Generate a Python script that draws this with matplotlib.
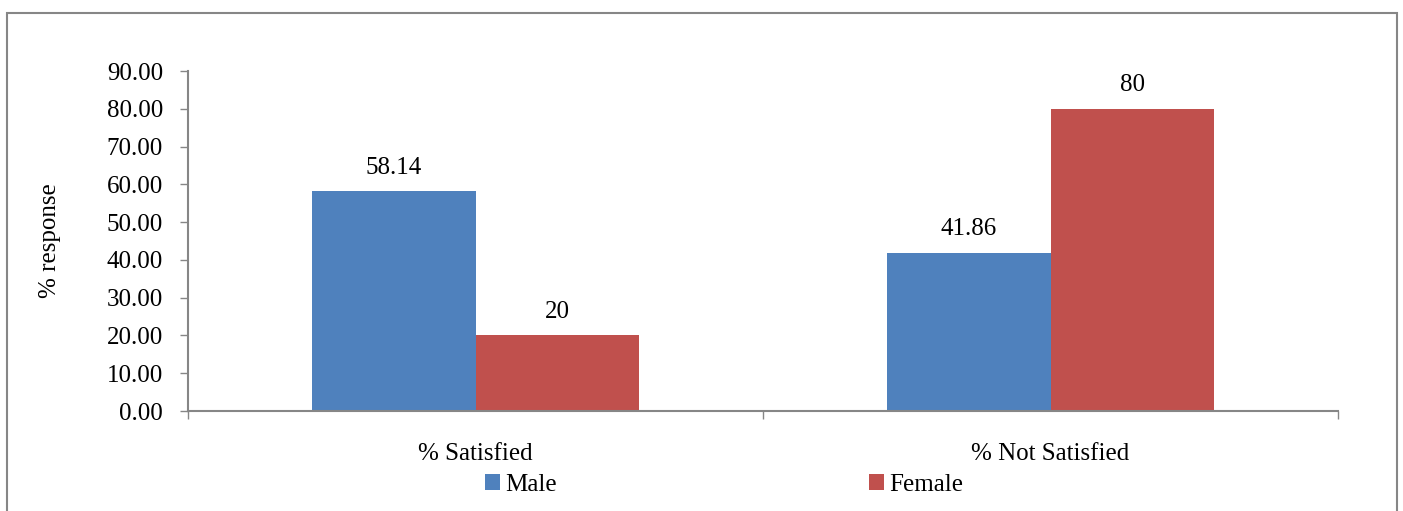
import matplotlib
matplotlib.use("Agg")
import matplotlib.pyplot as plt
from matplotlib.patches import Rectangle
import numpy as np

# ----------------------------
# DATA
# ----------------------------
categories = ["% Satisfied", "% Not Satisfied"]
male = [58.14, 41.86]
female = [20, 80]
male_labels = ["58.14", "41.86"]
female_labels = ["20", "80"]
y_ticks = [0, 10, 20, 30, 40, 50, 60, 70, 80, 90]

plt.rcParams["font.family"] = ["Liberation Serif", "DejaVu Serif"]
FS = 18
GRAY = "#868686"
BLUE = "#4F81BD"
RED = "#C0504D"

fig = plt.figure(figsize=(14.03, 5.11), dpi=100)
ax = fig.add_axes([188 / 1403, 1 - 411 / 511, 1150 / 1403, 340 / 511])

x = np.arange(len(categories))
w = 0.284
b1 = ax.bar(x - w / 2, male, w, color=BLUE, label="Male")
b2 = ax.bar(x + w / 2, female, w, color=RED, label="Female")

for bars, labs in [(b1, male_labels), (b2, female_labels)]:
    for bar, lab in zip(bars, labs):
        ax.annotate(lab, (bar.get_x() + bar.get_width() / 2, bar.get_height()),
                    xytext=(0, 9), textcoords="offset points",
                    ha="center", va="bottom", fontsize=FS)

ax.set_xlim(-0.5, 1.5)
ax.set_ylim(0, 90)
ax.set_yticks(y_ticks)
ax.set_yticklabels([f"{v:.2f}" for v in y_ticks], fontsize=FS)
ax.set_xticks(x)
ax.set_xticklabels(categories, fontsize=FS)
ax.set_xticks([-0.5, 0.5, 1.5], minor=True)
ax.tick_params(axis="x", which="major", length=0, pad=23)
ax.tick_params(axis="x", which="minor", length=6, width=1, color=GRAY, direction="out")
ax.tick_params(axis="y", length=6, width=1, color=GRAY, pad=12)

for s in ["top", "right"]:
    ax.spines[s].set_visible(False)
for s in ["left", "bottom"]:
    ax.spines[s].set_color(GRAY)
    ax.spines[s].set_linewidth(1.5)

ax.set_ylabel("% response", fontsize=FS, labelpad=33)

fig.legend(loc="center", bbox_to_anchor=(724 / 1403, 1 - 485 / 511), ncol=2,
           frameon=False, fontsize=FS, handlelength=0.6, handleheight=0.6,
           handletextpad=0.2, columnspacing=12.5, borderpad=0)

# outer chart border
fig.add_artist(Rectangle((7 / 1403, -0.05), 1390 / 1403, 1.05 - 13 / 511,
                         transform=fig.transFigure, fill=False,
                         edgecolor=GRAY, linewidth=1.5))

fig.savefig("out.png", dpi=100)
